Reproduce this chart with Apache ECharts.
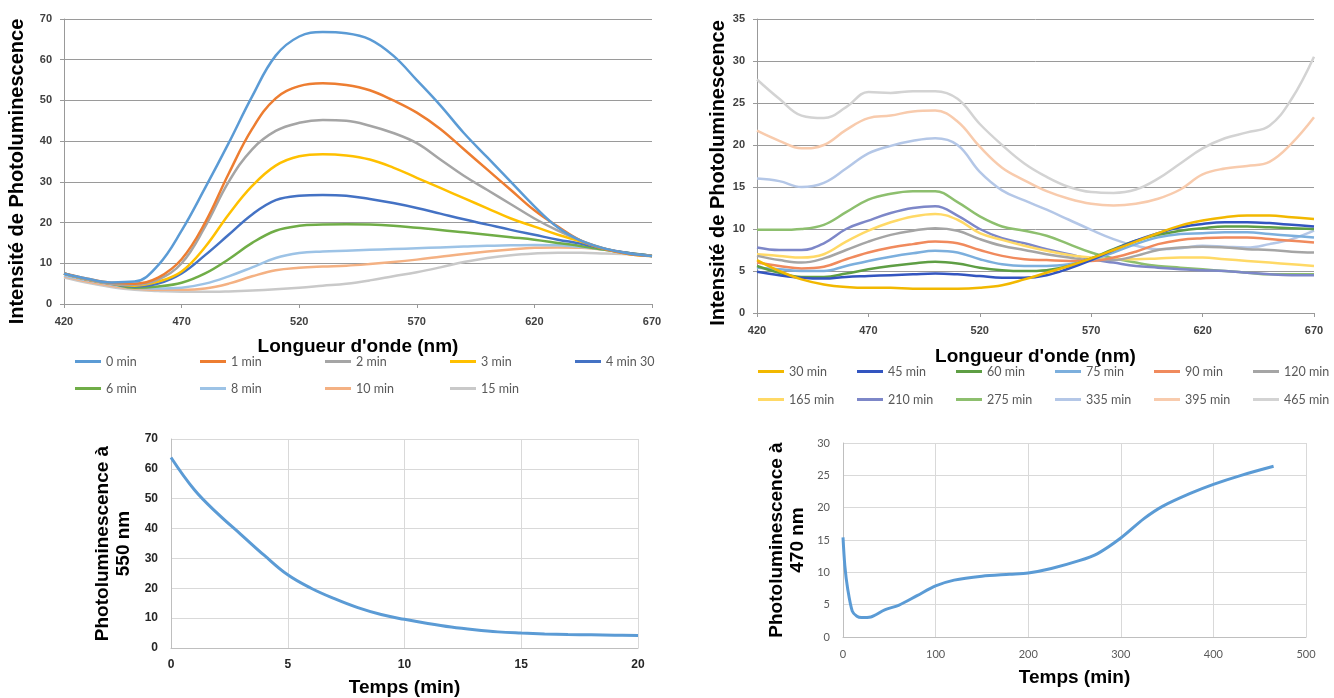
<!DOCTYPE html>
<html><head><meta charset="utf-8">
<script src="https://cdn.jsdelivr.net/npm/echarts@6/dist/echarts.min.js"></script>
<style>html,body{margin:0;padding:0;background:#fff}#c{width:1334px;height:698px}</style>
</head><body><div id="c"></div>
<script>
// ---------- DATA ----------
const wavelengths = [420,430,440,450,460,470,480,490,500,510,520,530,540,550,560,570,580,590,600,610,620,630,640,650,660,670];
const nmTicks = [420,470,520,570,620,670];

// Panel A (early times)
const namesA = ['0 min','1 min','2 min','3 min','4 min 30','6 min','8 min','10 min','15 min'];
const colorsA = ['#5B9BD5','#ED7D31','#A5A5A5','#FFC000','#4472C4','#70AD47','#9DC3E6','#F4B183','#C9C9C9'];
const a0   = [7.5,6.2,5.3,5.5,9.5,18,28.5,39.5,51,61,65.7,66.8,66.5,65,61,55,48.8,42,36,30,24,18.8,15.5,13.6,12.4,11.8];
const a1   = [7.5,6.2,5.2,5,6.5,11,20,32,43,50.5,53.5,54.2,53.8,52.5,50,47,43,38,33,28,23,19,15.5,13.5,12.3,11.8];
const a2   = [7.5,6,5,4.7,6,10,19,30,38,42.5,44.5,45.2,45,43.8,42,39.5,35.5,31.5,28,24.5,21,18,15.5,13.6,12.4,11.8];
const a3   = [7.5,6,5,4.5,5.5,8,14,22,29,34,36.3,36.8,36.5,35.5,33.5,31,28.5,26,23.5,21,19,17,15.3,13.5,12.3,11.8];
const a4_5 = [7.5,6,5,4.3,5,7.5,12,17,22,25.5,26.6,26.8,26.6,25.8,24.8,23.6,22.2,20.8,19.5,18.2,17,15.8,14.8,13.5,12.5,11.8];
const a6   = [7.5,6,5,4,4.3,5.2,7.5,11,15,18,19.2,19.5,19.6,19.5,19.2,18.7,18.2,17.6,17,16.4,15.8,15,14.2,13.3,12.5,11.8];
const a8   = [7,5.8,4.8,4,3.8,4,5,6.8,9,11.3,12.5,12.9,13.1,13.3,13.5,13.7,13.9,14.1,14.3,14.4,14.5,14.4,14,13.3,12.5,11.8];
const a10  = [6.8,5.5,4.5,3.8,3.5,3.5,3.8,5,6.8,8.3,8.9,9.2,9.4,9.8,10.3,10.9,11.6,12.3,12.9,13.4,13.8,13.9,13.8,13.3,12.5,11.8];
const a15  = [6.5,5.2,4.2,3.5,3.2,3,3,3.1,3.3,3.6,4,4.5,5,5.8,6.8,7.8,9,10.3,11.3,12,12.4,12.6,12.6,12.4,12.2,11.8];
const valuesA = [a0,a1,a2,a3,a4_5,a6,a8,a10,a15];

// Panel B (later times)
const namesB = ['30 min','45 min','60 min','75 min','90 min','120 min','165 min','210 min','275 min','335 min','395 min','465 min'];
const colorsB = ['#F2B800','#3355C0','#5E9E44','#7CAFDD','#F08A5D','#A5A5A5','#FFD966','#7D87C8','#8DBF6E','#B4C7E7','#F8CBAD','#D3D3D3'];
const b30  = [6.3,5,4,3.4,3.1,3,3,2.9,2.9,2.9,3,3.3,4,4.8,5.6,6.5,7.5,8.5,9.5,10.4,11,11.4,11.6,11.6,11.4,11.2];
const b45  = [4.9,4.5,4.2,4.1,4.3,4.4,4.5,4.6,4.7,4.6,4.4,4.2,4.2,4.5,5.3,6.3,7.5,8.6,9.5,10.2,10.6,10.8,10.8,10.7,10.5,10.3];
const b60  = [5.6,4.8,4.3,4.3,4.7,5.2,5.6,5.9,6.1,5.9,5.4,5.1,5,5.1,5.6,6.5,7.6,8.6,9.3,9.8,10.1,10.3,10.3,10.2,10.1,10];
const b75  = [5.4,5.2,5,5,5.6,6.2,6.7,7.1,7.4,7.2,6.4,5.8,5.6,5.6,5.8,6.3,7.2,8.2,9,9.4,9.5,9.6,9.6,9.4,9.2,9];
const b90  = [6,5.6,5.3,5.5,6.4,7.2,7.8,8.2,8.5,8.3,7.5,6.8,6.4,6.3,6.2,6.2,6.6,7.3,8.2,8.7,8.9,9,9,8.8,8.6,8.4];
const b120 = [6.8,6.3,6,6.5,7.5,8.5,9.3,9.8,10.1,9.8,8.8,8,7.5,7,6.6,6.3,6.3,6.8,7.5,7.8,7.9,7.8,7.6,7.5,7.3,7.2];
const b165 = [7,6.8,6.6,7,8.5,9.8,10.8,11.5,11.8,11.1,9.5,8.7,8,7.4,6.9,6.6,6.4,6.4,6.5,6.6,6.6,6.4,6.2,6,5.8,5.6];
const b210 = [7.8,7.5,7.5,8.3,10,11,11.9,12.5,12.7,11.6,10,8.9,8.3,7.6,7,6.4,6,5.6,5.4,5.2,5.1,5,4.8,4.6,4.5,4.5];
const b275 = [9.9,9.9,10,10.5,12,13.5,14.2,14.5,14.5,13.2,11.5,10.3,9.8,9.2,8.2,7.2,6.5,6,5.6,5.4,5.2,5,4.8,4.6,4.6,4.6];
const b335 = [16,15.7,15,15.5,17.2,19,19.9,20.5,20.8,20,16.8,14.6,13.4,12.3,11.1,9.9,8.8,8,7.6,7.7,8,7.9,7.8,8.2,8.8,9.8];
const b395 = [21.7,20.5,19.6,20,21.8,23.2,23.5,24,24.1,22.8,19.8,17.3,15.8,14.5,13.6,13,12.8,13,13.6,14.7,16.5,17.2,17.5,18,20.2,23.3];
const b465 = [27.8,25.5,23.5,23.2,24.5,26.3,26.2,26.4,26.4,25.5,22.5,20,17.8,16.2,15,14.4,14.3,14.7,16,17.8,19.6,20.8,21.5,22.3,25.5,30.5];
const valuesB = [b30,b45,b60,b75,b90,b120,b165,b210,b275,b335,b395,b465];

// Panel C: PL at 550 nm vs time
const timeC = [0,1,2,3,4,5,6,7,8,9,10,11,12,13,14,15,16,17,18,19,20];
const pl550 = [63.8,53,45,38,31,24.5,20,16.5,13.5,11.2,9.6,8.2,7,6.1,5.4,5,4.7,4.5,4.4,4.3,4.2];

// Panel D: PL at 470 nm vs time
const timeD = [0,2,5,10,15,20,30,45,60,80,100,120,150,180,200,225,255,275,300,325,345,375,400,430,465];
const pl470 = [15.4,11,7.5,4,3.2,3.0,3.1,4.2,4.9,6.4,7.9,8.8,9.4,9.7,9.9,10.6,11.8,12.9,15.3,18.3,20.2,22.2,23.6,25,26.4];

// ---------- CHART ----------
const chart = echarts.init(document.getElementById('c'), null, {renderer:'canvas'});
const bold = 'Liberation Sans';
const titleX = {fontFamily: bold, fontWeight: 'bold', fontSize: 19, color: '#000'};
const titleY = {fontFamily: bold, fontWeight: 'bold', fontSize: 20, color: '#000'};

function pairs(xs, ys){ return xs.map((x,i)=>[x, ys[i]]); }

const series = [];
namesA.forEach((n,i)=>series.push({name:n, type:'line', xAxisIndex:0, yAxisIndex:0, showSymbol:false, symbol:'none', smooth:0.4,
  data: pairs(wavelengths, valuesA[i]), lineStyle:{width:2.5, color:colorsA[i]}, itemStyle:{color:colorsA[i]}, z: 20-i}));
namesB.forEach((n,i)=>series.push({name:n, type:'line', xAxisIndex:1, yAxisIndex:1, showSymbol:false, symbol:'none', smooth:0.4,
  data: pairs(wavelengths, valuesB[i]), lineStyle:{width:2.5, color:colorsB[i]}, itemStyle:{color:colorsB[i]}, z: 20-i}));
series.push({name:'PL550', type:'line', xAxisIndex:2, yAxisIndex:2, showSymbol:false, symbol:'none', smooth:0.4,
  data: pairs(timeC, pl550), lineStyle:{width:3, color:'#5B9BD5'}});
series.push({name:'PL470', type:'line', xAxisIndex:3, yAxisIndex:3, showSymbol:false, symbol:'none', smooth:0.3,
  data: pairs(timeD, pl470), lineStyle:{width:3, color:'#5B9BD5'}});

const topTick = {fontFamily: bold, fontWeight:'bold', fontSize: 11, color:'#404040'};
function topX(gi, gap){ return {type:'value', gridIndex:gi, min:420, max:670,
  name:"Longueur d'onde (nm)", nameLocation:'middle', nameGap:gap, nameTextStyle:titleX,
  axisLine:{show:true, lineStyle:{color:'#999', width:1}},
  axisTick:{show:true, length:4, customValues: nmTicks, lineStyle:{color:'#999'}},
  axisLabel:{customValues: nmTicks, margin:12, ...topTick},
  splitLine:{show:false}}; }
function topY(gi, max, interval, gap, shift){ return {type:'value', gridIndex:gi, min:0, max:max, interval:interval,
  name:'Intensité de Photoluminescence', nameLocation:'middle', nameGap:gap,
  nameTextStyle:{...titleY, padding:[0, shift, 0, 0]},
  axisLine:{show:true, lineStyle:{color:'#999', width:1}},
  axisTick:{show:true, length:4, lineStyle:{color:'#999'}},
  axisLabel:{margin:12, ...topTick},
  splitLine:{show:true, lineStyle:{color:'#9a9a9a', width:1}}}; }

const legendText = {fontFamily:'Lato', fontSize:12.5, color:'#595959'};
const legends = [];
function addLegends(names, left0, top0, colStep, rowStep, perRow){
  names.forEach((n,i)=>{
    const col = i % perRow, row = Math.floor(i / perRow);
    legends.push({data:[n], left:left0 + col*colStep, top:top0 + row*rowStep, orient:'horizontal', icon:'rect',
      itemWidth:26, itemHeight:3, itemGap:5, selectedMode:false, padding:0, textStyle:legendText});
  });
}
addLegends(namesA, 75, 355, 125, 27, 5);
addLegends(namesB, 758, 365, 99, 28, 6);

const option = {
  animation:false,
  backgroundColor:'#fff',
  grid:[
    {left:64, top:19, width:588, height:285},
    {left:757, top:19, width:557, height:294},
    {left:171, top:439, width:467, height:210},
    {left:843, top:443, width:463, height:194}
  ],
  legend: legends,
  xAxis:[
    topX(0, 33), topX(1, 34),
    {type:'value', gridIndex:2, min:0, max:20, interval:5,
      name:'Temps (min)', nameLocation:'middle', nameGap:30, nameTextStyle:titleX,
      axisLine:{lineStyle:{color:'#BFBFBF'}}, axisTick:{show:false},
      axisLabel:{margin:11, fontFamily:bold, fontWeight:'bold', fontSize:12, color:'#262626'},
      splitLine:{show:true, lineStyle:{color:'#D9D9D9'}}},
    {type:'value', gridIndex:3, min:0, max:500, interval:100,
      name:'Temps (min)', nameLocation:'middle', nameGap:31, nameTextStyle:titleX,
      axisLine:{lineStyle:{color:'#BFBFBF'}}, axisTick:{show:false},
      axisLabel:{margin:12, fontFamily:'Lato', fontSize:11, color:'#595959'},
      splitLine:{show:true, lineStyle:{color:'#D9D9D9'}}}
  ],
  yAxis:[
    topY(0, 70, 10, 37, 20), topY(1, 35, 5, 29, 14),
    {type:'value', gridIndex:2, min:0, max:70, interval:10,
      name:'Photoluminescence à\n550 nm', nameLocation:'middle', nameGap:37,
      nameTextStyle:{...titleX, lineHeight:21},
      axisLine:{show:true, lineStyle:{color:'#BFBFBF'}}, axisTick:{show:false},
      axisLabel:{margin:13, fontFamily:bold, fontWeight:'bold', fontSize:12, color:'#262626'},
      splitLine:{show:true, lineStyle:{color:'#D9D9D9'}}},
    {type:'value', gridIndex:3, min:0, max:30, interval:5,
      name:'Photoluminescence à\n470 nm', nameLocation:'middle', nameGap:35,
      nameTextStyle:{...titleX, lineHeight:21},
      axisLine:{show:true, lineStyle:{color:'#BFBFBF'}}, axisTick:{show:false},
      axisLabel:{margin:13, fontFamily:'Lato', fontSize:11, color:'#595959'},
      splitLine:{show:true, lineStyle:{color:'#D9D9D9'}}}
  ],
  series: series
};
chart.setOption(option);
</script>
</body></html>
